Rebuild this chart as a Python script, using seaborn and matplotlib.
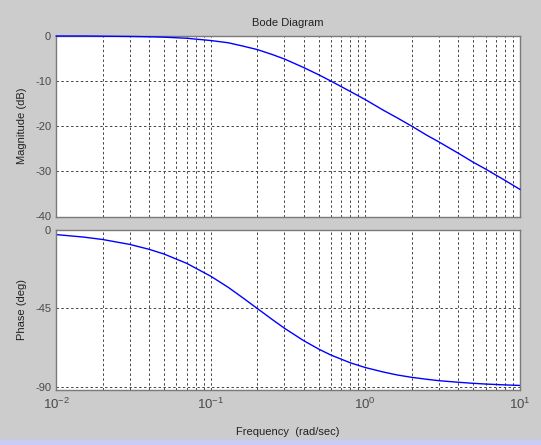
import numpy as np
import matplotlib
matplotlib.use("Agg")
import matplotlib.pyplot as plt
from matplotlib.patches import Rectangle
from matplotlib.ticker import LogLocator, NullFormatter
import seaborn as sns

sns.set_style("white")
plt.rcParams['font.family'] = ['Liberation Sans', 'DejaVu Sans']
plt.rcParams['axes.unicode_minus'] = False
plt.rcParams['mathtext.default'] = 'regular'

# values
freq = [0.01, 0.015, 0.02, 0.03, 0.04, 0.05, 0.07, 0.1, 0.13, 0.16, 0.2, 0.25,
        0.3, 0.4, 0.5, 0.6, 0.8, 1.0, 1.3, 1.6, 2.0, 2.5, 3.0, 4.0, 5.0, 6.0,
        8.0, 10.0]
mag_db = [0.0, 0.0, -0.04, -0.1, -0.17, -0.26, -0.5, -1.0, -1.5, -2.2, -3.0,
          -4.1, -5.1, -7.0, -8.6, -10.0, -12.3, -14.1, -16.4, -18.1, -20.0,
          -22.0, -23.5, -26.0, -28.0, -29.5, -32.0, -34.0]
phase_deg = [-2.9, -4.3, -5.7, -8.5, -11.3, -14.0, -19.3, -26.6, -33.0, -38.7,
             -45.0, -51.3, -56.3, -63.4, -68.2, -71.6, -76.0, -78.7, -81.2,
             -82.9, -84.3, -85.4, -86.2, -87.1, -87.7, -88.1, -88.6, -88.9]
mag_ticks = [0, -10, -20, -30, -40]
phase_ticks = [0, -45, -90]

bg = '#cccccc'
W, H = 541, 445
fig = plt.figure(figsize=(W / 100, H / 100), dpi=100, facecolor=bg)
fig.patches.append(Rectangle((0, 0), 1, 5 / H, transform=fig.transFigure,
                             facecolor='#c8ccf6', edgecolor='none'))

left, right = 56 / W, 520 / W
ax1 = fig.add_axes([left, 1 - 216.5 / H, right - left, (216.5 - 36) / H])
ax2 = fig.add_axes([left, 1 - 390 / H, right - left, (390 - 229.5) / H])

sns.lineplot(x=freq, y=mag_db, ax=ax1, color='#0000ff', linewidth=1,
             clip_on=False, zorder=5)
sns.lineplot(x=freq, y=phase_deg, ax=ax2, color='#0000ff', linewidth=1)

for ax in (ax1, ax2):
    ax.set_xscale('log')
    ax.set_xlim(0.01, 10)
    ax.set_facecolor('white')
    ax.xaxis.set_major_locator(LogLocator(base=10, numticks=10))
    ax.xaxis.set_minor_locator(LogLocator(base=10, subs=np.arange(2, 10), numticks=10))
    ax.xaxis.set_minor_formatter(NullFormatter())
    ax.grid(True, which='major', axis='both', linestyle=(0, (2.5, 2.5)),
            color='#444444', linewidth=0.7)
    ax.grid(True, which='minor', axis='x', linestyle=(0, (2.5, 2.5)),
            color='#444444', linewidth=0.7)
    ax.tick_params(which='both', direction='in', colors='#555555',
                   labelcolor='#4a4a4a', labelsize=8)
    ax.tick_params(which='major', length=3)
    ax.tick_params(which='minor', length=2)
    for s in ax.spines.values():
        s.set_color('#7a7a7a')
        s.set_linewidth(1)
    ax.set_axisbelow(True)

ax1.set_ylim(-40, 0)
ax1.set_yticks(mag_ticks)
ax1.tick_params(labelbottom=False)
ax2.set_ylim(-91.5, 0)
ax2.set_yticks(phase_ticks)
ax2.tick_params(axis='x', pad=5, labelsize=9.5)

ax1.set_ylabel('Magnitude (dB)', fontsize=8, color='#222222', labelpad=6)
ax2.set_ylabel('Phase (deg)', fontsize=8, color='#222222', labelpad=6)
ax1.set_title('Bode Diagram', fontsize=8, color='#222222', pad=7)
ax2.set_xlabel('Frequency  (rad/sec)', fontsize=8, color='#222222', labelpad=11)

fig.savefig('out.png', dpi=100, facecolor=bg)
